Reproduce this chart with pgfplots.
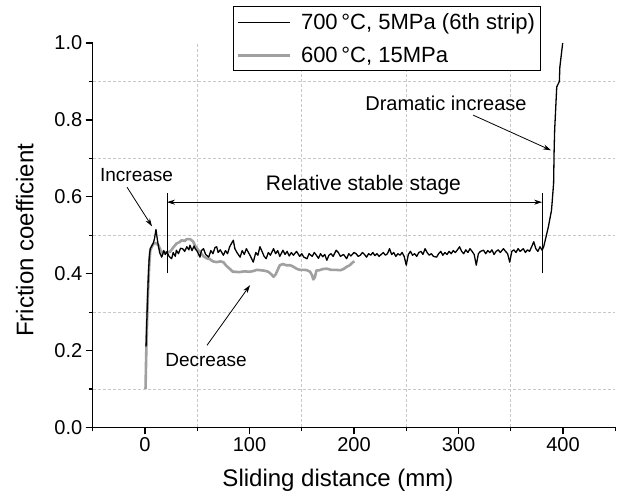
\documentclass[border=0pt]{standalone}
\usepackage{fontspec}
\setmainfont{Liberation Sans}
\usepackage{pgfplots}
\pgfplotsset{compat=1.18}
\usetikzlibrary{arrows.meta}
\definecolor{grayline}{RGB}{160,160,160}
\definecolor{gridgray}{RGB}{200,200,200}

\pgfplotstableread{
x y
1 0.21
2 0.30
3 0.38
4 0.44
5 0.465
6 0.47
7 0.475
8 0.48
9 0.49
10.5 0.515
12 0.485
13 0.47
14 0.455
16 0.443
18 0.46
19.5 0.45
21 0.457
23 0.445
25.5 0.439
27 0.455
29 0.445
30 0.461
32 0.452
34 0.466
36 0.465
38 0.458
40 0.47
42 0.462
43 0.474
45 0.46
47 0.472
48 0.465
50 0.458
52.6 0.443
54 0.46
56 0.465
58 0.45
61 0.443
63 0.46
65 0.452
67 0.468
68.6 0.47
70 0.455
72 0.462
75 0.448
77 0.46
79 0.452
81 0.47
84.5 0.487
86 0.465
88 0.455
91 0.443
93 0.46
95 0.45
97 0.465
99 0.455
101 0.445
103.6 0.43
106 0.455
108 0.448
110 0.47
112 0.458
114 0.445
116 0.439
118 0.455
120 0.448
123 0.465
125 0.452
127 0.46
129 0.445
132 0.461
134 0.45
136 0.458
138 0.446
140 0.455
142 0.448
145 0.458
148 0.445
150 0.452
152 0.443
155 0.439
157 0.452
160 0.445
162 0.455
164 0.448
166 0.44
168 0.452
170 0.444
172 0.45
174 0.435
176 0.448
178 0.452
180 0.445
183 0.461
185 0.455
187 0.445
190 0.45
193 0.439
195 0.452
197 0.446
200 0.455
202 0.452
204 0.445
206 0.448
208 0.455
210 0.45
212 0.443
214 0.452
216 0.448
218 0.455
220 0.447
222 0.452
224 0.445
226 0.45
228 0.455
230 0.448
232 0.452
234 0.465
236 0.45
238 0.455
240 0.445
242 0.452
244 0.448
246 0.455
248 0.445
250 0.422
252 0.45
254 0.458
256 0.448
258 0.452
260 0.445
262 0.455
264 0.458
266 0.45
268 0.465
270 0.455
272 0.448
274 0.452
276 0.445
279 0.443
281 0.452
283 0.458
285 0.448
287 0.455
289 0.45
291 0.458
293 0.452
295 0.46
297 0.455
299 0.462
301 0.47
303 0.458
305 0.452
307 0.462
309 0.455
311 0.465
313 0.458
315 0.45
317 0.422
319 0.452
321 0.458
324 0.461
326 0.452
328 0.46
330 0.455
332 0.462
334 0.45
336 0.458
338 0.462
340 0.455
343 0.465
345 0.458
347 0.452
349 0.43
351 0.458
353 0.462
355 0.455
357 0.465
359 0.458
362 0.465
364 0.455
366 0.462
368 0.458
370 0.47
372 0.483
374 0.465
376 0.458
378 0.47
380 0.461
381.5 0.47
383 0.487
386 0.522
389 0.565
391 0.635
391.5 0.72
392 0.773
394 0.886
396.5 0.9
397 0.938
399.7 1.0
}\blackdata

\pgfplotstableread{
x y
0.5 0.10
1 0.17
2 0.28
3 0.36
4 0.42
5 0.46
6.5 0.47
8 0.478
10 0.48
12.8 0.474
15 0.46
17.5 0.452
20 0.455
24 0.457
27 0.468
30 0.478
33 0.482
35 0.487
38 0.485
40 0.49
43 0.49
46 0.484
48 0.472
51 0.461
54 0.452
56 0.445
59 0.44
62 0.438
65 0.432
68.6 0.43
72 0.432
75 0.43
78 0.42
81 0.413
84 0.405
86 0.405
90 0.404
95 0.406
100 0.405
104 0.407
107 0.41
110 0.409
114 0.408
118 0.405
121 0.398
123 0.392
125 0.398
127 0.41
129 0.422
132 0.425
135 0.422
139 0.422
142 0.418
145 0.413
148 0.41
152 0.41
155 0.409
158 0.405
160 0.395
161 0.385
162.5 0.39
164 0.408
167 0.409
170 0.412
174 0.413
178 0.41
182 0.41
187 0.409
190 0.412
193 0.418
196 0.422
199 0.43
200.5 0.432
}\graydata

\begin{document}
\begin{tikzpicture}
\begin{axis}[
  scale only axis, width=522pt, height=384pt,
  xmin=-50, xmax=450, ymin=0, ymax=1,
  clip=false,
  axis x line*=bottom, axis y line*=left,
  axis line style={line width=1.2pt, -},
  xtick={0,100,200,300,400},
  ytick={0,0.2,0.4,0.6,0.8,1.0},
  minor xtick={50,150,250,350},
  minor ytick={0.1,0.3,0.5,0.7,0.9},
  extra x ticks={-50,450}, extra x tick labels={},
  extra x tick style={major tick length=4pt, grid=none},
  tick align=outside,
  major tick length=7pt, minor tick length=4pt,
  every tick/.style={line width=1.2pt, black},
  xminorgrids=true, yminorgrids=true,
  minor grid style={gridgray, dash pattern=on 3pt off 2pt, line width=0.6pt},
  /pgf/number format/assume math mode=true,
  ticklabel style={font=\fontsize{20}{24}\selectfont},
  yticklabel style={/pgf/number format/.cd, fixed, fixed zerofill, precision=1},
  xlabel={Sliding distance (mm)},
  ylabel={Friction coefficient},
  label style={font=\fontsize{24}{28}\selectfont},
  xlabel style={at={(axis description cs:0.4693,-0.138)}, anchor=center},
  ylabel style={at={(axis description cs:-0.1303,0.487)}, anchor=center},
  legend style={at={(axis description cs:0.2682,1.0964)}, anchor=north west,
    draw=black, line width=0.9pt, fill=white,
    font=\fontsize{22}{25}\selectfont, row sep=12pt, inner xsep=3pt, inner ysep=5pt},
  legend cell align=left,
  legend image code/.code={\draw[#1] (0pt,0pt) -- (52pt,0pt);},
  reverse legend,
]
\addplot[grayline, line width=2.6pt, line join=round] table {\graydata};
\addlegendentry{\hspace*{8pt}600\,°C, 15MPa}
\addplot[black, line width=1.3pt, line join=round] table {\blackdata};
\addlegendentry{\hspace*{8pt}700\,°C, 5MPa (6th strip)}

\node[font=\fontsize{19}{22}\selectfont] at (axis cs:-8.1,0.656) {Increase};
\draw[line width=0.8pt, -{Stealth[length=8pt,width=5pt]}] (axis cs:-17.2,0.625) -- (axis cs:6.7,0.523);
\draw[line width=0.8pt] (axis cs:21,0.401) -- (axis cs:21,0.609);
\draw[line width=0.8pt] (axis cs:380,0.401) -- (axis cs:380,0.609);
\draw[line width=0.8pt, {Stealth[length=8pt,width=5pt]}-{Stealth[length=8pt,width=5pt]}] (axis cs:21,0.586) -- (axis cs:380,0.586);
\node[font=\fontsize{21}{24}\selectfont] at (axis cs:209,0.631) {Relative stable stage};
\node[font=\fontsize{20}{24}\selectfont] at (axis cs:288,0.844) {Dramatic increase};
\draw[line width=0.8pt, -{Stealth[length=8pt,width=5pt]}] (axis cs:314,0.8125) -- (axis cs:388.5,0.721);
\node[font=\fontsize{19}{22}\selectfont] at (axis cs:58.4,0.174) {Decrease};
\draw[line width=0.8pt, -{Stealth[length=8pt,width=5pt]}] (axis cs:59.3,0.2135) -- (axis cs:100.5,0.37);

\coordinate (bbbl) at (axis cs:-138.76,-0.198);
\coordinate (bbtr) at (axis cs:451.67,1.112);
\end{axis}
\pgfresetboundingbox
\useasboundingbox (bbbl) rectangle (bbtr);
\end{tikzpicture}
\end{document}
